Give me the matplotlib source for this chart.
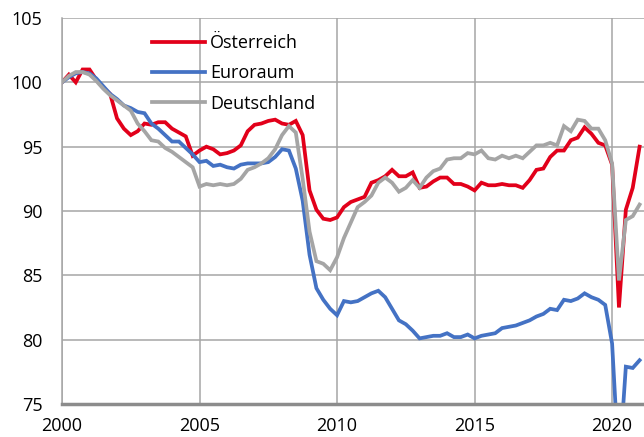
import numpy as np
import matplotlib
matplotlib.use("Agg")
import matplotlib.pyplot as plt

# quarterly index values, 2000Q1 = 100, up to 2021Q1
start_year = 2000
oesterreich = [100.0, 100.6, 100.0, 101.0,
               101.0, 100.2, 99.6, 99.1,
               97.2, 96.4, 95.9, 96.2,
               96.8, 96.7, 96.9, 96.9,
               96.4, 96.1, 95.8, 94.3,
               94.7, 95.0, 94.8, 94.4,
               94.5, 94.7, 95.1, 96.2,
               96.7, 96.8, 97.0, 97.1,
               96.8, 96.7, 97.0, 95.9,
               91.6, 90.1, 89.4, 89.3,
               89.5, 90.3, 90.7, 90.9,
               91.1, 92.2, 92.4, 92.7,
               93.2, 92.7, 92.7, 93.0,
               91.8, 91.9, 92.3, 92.6,
               92.6, 92.1, 92.1, 91.9,
               91.6, 92.2, 92.0, 92.0,
               92.1, 92.0, 92.0, 91.8,
               92.4, 93.2, 93.3, 94.2,
               94.7, 94.7, 95.5, 95.7,
               96.5, 96.0, 95.3, 95.1,
               93.6, 82.5, 90.1, 91.8,
               95.0]
euroraum = [100.0, 100.4, 100.7, 100.8,
            100.7, 100.3, 99.7, 99.1,
            98.7, 98.2, 98.0, 97.7,
            97.6, 96.8, 96.4, 95.9,
            95.4, 95.4, 94.9, 94.4,
            93.8, 93.9, 93.5, 93.6,
            93.4, 93.3, 93.6, 93.7,
            93.7, 93.7, 93.8, 94.2,
            94.8, 94.7, 93.3, 90.8,
            86.6, 84.0, 83.1, 82.4,
            81.9, 83.0, 82.9, 83.0,
            83.3, 83.6, 83.8, 83.3,
            82.4, 81.5, 81.2, 80.7,
            80.1, 80.2, 80.3, 80.3,
            80.5, 80.2, 80.2, 80.4,
            80.1, 80.3, 80.4, 80.5,
            80.9, 81.0, 81.1, 81.3,
            81.5, 81.8, 82.0, 82.4,
            82.3, 83.1, 83.0, 83.2,
            83.6, 83.3, 83.1, 82.7,
            79.7, 70.0, 77.9, 77.8,
            78.4]
deutschland = [100.0, 100.5, 100.8, 100.8,
               100.6, 100.1, 99.5, 99.0,
               98.6, 98.2, 97.8, 96.8,
               96.2, 95.5, 95.4, 94.9,
               94.6, 94.2, 93.8, 93.4,
               91.9, 92.1, 92.0, 92.1,
               92.0, 92.1, 92.5, 93.2,
               93.4, 93.7, 94.1, 94.8,
               95.9, 96.6, 96.1, 92.5,
               88.4, 86.1, 85.9, 85.4,
               86.4, 87.9, 89.1, 90.3,
               90.7, 91.2, 92.2, 92.6,
               92.2, 91.5, 91.8, 92.4,
               91.8, 92.6, 93.1, 93.3,
               94.0, 94.1, 94.1, 94.5,
               94.4, 94.7, 94.1, 94.0,
               94.3, 94.1, 94.3, 94.1,
               94.6, 95.1, 95.1, 95.3,
               95.1, 96.6, 96.2, 97.1,
               97.0, 96.4, 96.4, 95.5,
               93.7, 84.6, 89.3, 89.6,
               90.5]
labels = ["Österreich", "Euroraum", "Deutschland"]
colors = ["#e2001a", "#4472c4", "#a5a5a5"]

x = start_year + np.arange(len(oesterreich)) / 4

plt.rcParams['font.family'] = ['Open Sans', 'DejaVu Sans']
fig = plt.figure(figsize=(6.44, 4.37), dpi=100)
ax = fig.add_axes([62/644, 1-404/437, 1-62/644, 386/437])

for serie, lab, col in zip([oesterreich, euroraum, deutschland], labels, colors):
    ax.plot(x, serie, color=col, lw=2.7, label=lab, solid_joinstyle='miter')

ax.set_xlim(2000, 2021.16)
ax.set_ylim(75, 105)
ax.set_xticks([2000, 2005, 2010, 2015, 2020])
ax.set_yticks(np.arange(75, 106, 5))
ax.grid(True, color="#a6a6a6", lw=1.1)
ax.set_axisbelow(True)
ax.tick_params(length=0, labelsize=13, colors="black")
ax.tick_params(axis='y', pad=14)
ax.tick_params(axis='x', pad=9.5)
for s in ["top", "right"]:
    ax.spines[s].set_visible(False)
ax.spines["left"].set_color("#a6a6a6")
ax.spines["left"].set_linewidth(1.1)
ax.spines["bottom"].set_color("#8c8c8c")
ax.spines["bottom"].set_linewidth(2.5)
ax.spines["bottom"].set_zorder(3)

ax.legend(loc="upper left", bbox_to_anchor=(0.155, 0.958), frameon=False,
          fontsize=13, handlelength=2.9, handletextpad=0.3, labelspacing=0.68,
          borderpad=0, borderaxespad=0)

fig.savefig("out.png", dpi=100)
